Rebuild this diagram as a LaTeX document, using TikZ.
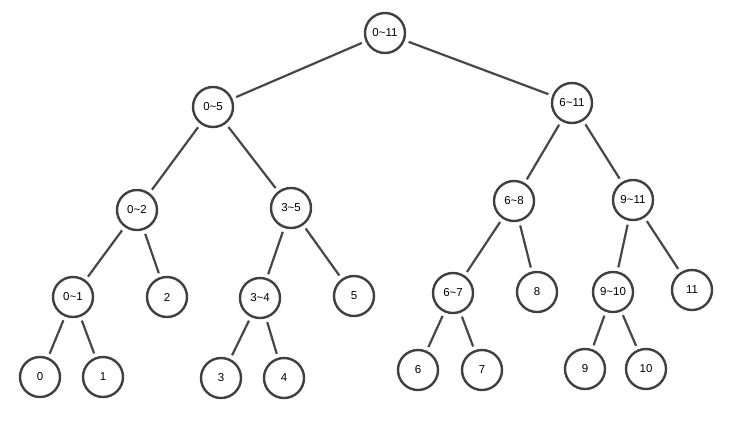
\documentclass[tikz,border=0pt]{standalone}
\usepackage{fontspec}
\setmainfont{Liberation Sans}
\usepackage{tikz}
\usetikzlibrary{positioning, calc}

\begin{document}
\begin{tikzpicture}[x=1pt, y=-1pt,
  seg/.style={circle, draw=black!75, line width=2.4pt, minimum size=40pt, inner sep=0pt, font=\fontsize{11.5}{12}\selectfont},
  edge/.style={draw=black!72, line width=2.2pt, shorten >=4pt, shorten <=4pt}]
\useasboundingbox (0,0) rectangle (743,440);

% Level 0
\node[seg] (s0to11) at (385, 33) {0\char`~11};

% Level 1
\node[seg] (s0to5) at (213, 107) {0\char`~5};
\node[seg] (s6to11) at (572, 103) {6\char`~11};

% Level 2
\node[seg] (s0to2) at (137, 210) {0\char`~2};
\node[seg] (s3to5) at (291, 208) {3\char`~5};
\node[seg] (s6to8) at (514, 201) {6\char`~8};
\node[seg] (s9to11) at (633, 200) {9\char`~11};

% Level 3
\node[seg] (s0to1) at (73, 297) {0\char`~1};
\node[seg] (s2) at (167, 297) {2};
\node[seg] (s3to4) at (260, 298) {3\char`~4};
\node[seg] (s5) at (354, 296) {5};
\node[seg] (s6to7) at (453, 293) {6\char`~7};
\node[seg] (s8) at (537, 292) {8};
\node[seg] (s9to10) at (613, 292) {9\char`~10};
\node[seg] (s11) at (692, 290) {11};

% Level 4 (leaves)
\node[seg] (s0) at (40, 377) {0};
\node[seg] (s1) at (103, 377) {1};
\node[seg] (s3) at (221, 378) {3};
\node[seg] (s4) at (284, 378) {4};
\node[seg] (s6) at (418, 370) {6};
\node[seg] (s7) at (482, 370) {7};
\node[seg] (s9) at (585, 369) {9};
\node[seg] (s10) at (646, 369) {10};

% Edges
\draw[edge] (s0to11) -- (s0to5);
\draw[edge] (s0to11) -- (s6to11);
\draw[edge] (s0to5) -- (s0to2);
\draw[edge] (s0to5) -- (s3to5);
\draw[edge] (s6to11) -- (s6to8);
\draw[edge] (s6to11) -- (s9to11);
\draw[edge] (s0to2) -- (s0to1);
\draw[edge] (s0to2) -- (s2);
\draw[edge] (s3to5) -- (s3to4);
\draw[edge] (s3to5) -- (s5);
\draw[edge] (s6to8) -- (s6to7);
\draw[edge] (s6to8) -- (s8);
\draw[edge] (s9to11) -- (s9to10);
\draw[edge] (s9to11) -- (s11);
\draw[edge] (s0to1) -- (s0);
\draw[edge] (s0to1) -- (s1);
\draw[edge] (s3to4) -- (s3);
\draw[edge] (s3to4) -- (s4);
\draw[edge] (s6to7) -- (s6);
\draw[edge] (s6to7) -- (s7);
\draw[edge] (s9to10) -- (s9);
\draw[edge] (s9to10) -- (s10);
\end{tikzpicture}
\end{document}
